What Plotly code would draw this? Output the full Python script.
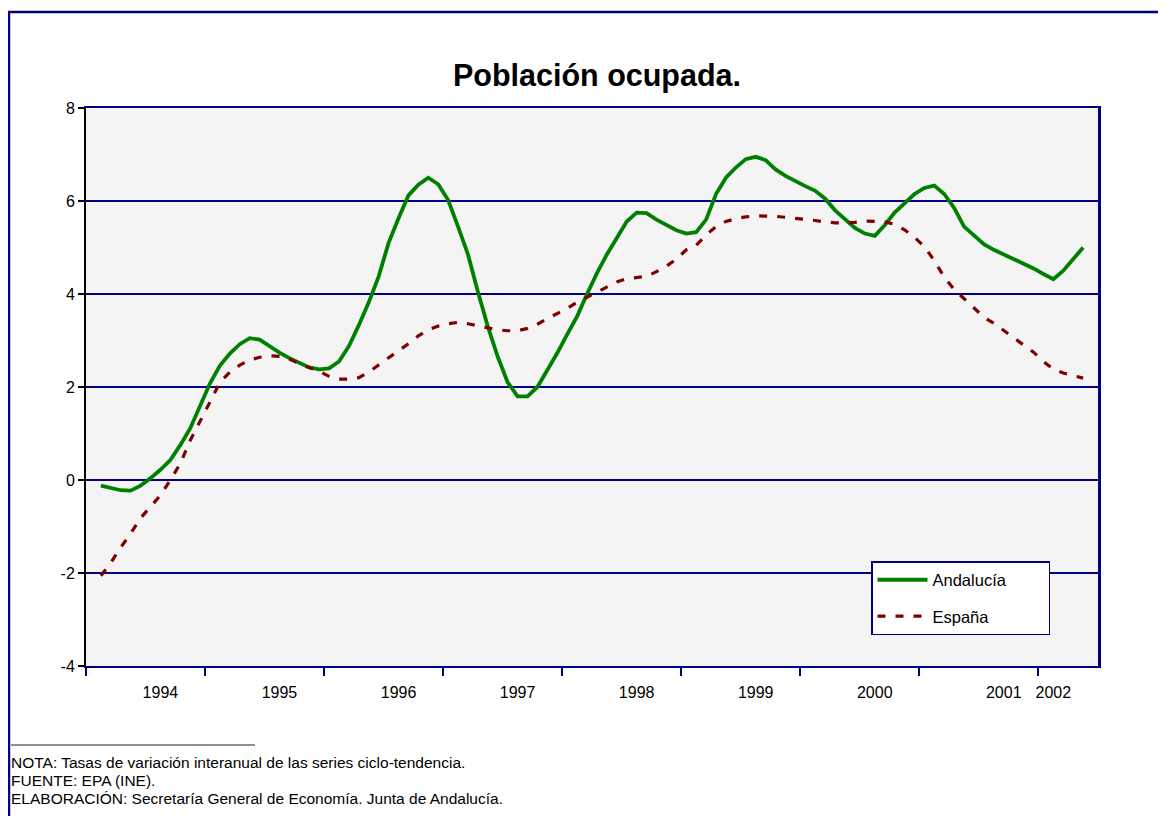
import plotly.graph_objects as go

# Monthly index positions (category centres) and series values (% interannual change)
months = list(range(1, 101))

andalucia = [
    -0.12, -0.17, -0.22, -0.23, -0.12, 0.04, 0.22, 0.43, 0.75, 1.11,
    1.58, 2.08, 2.46, 2.72, 2.92, 3.05, 3.02, 2.87, 2.74, 2.62,
    2.52, 2.42, 2.38, 2.40, 2.55, 2.88, 3.33, 3.82, 4.38, 5.10,
    5.63, 6.12, 6.35, 6.50, 6.36, 6.02, 5.45, 4.85, 4.05, 3.30,
    2.65, 2.10, 1.80, 1.80, 2.00, 2.35, 2.73, 3.13, 3.52, 4.00,
    4.45, 4.85, 5.20, 5.56, 5.75, 5.74, 5.60, 5.48, 5.37, 5.30,
    5.33, 5.60, 6.15, 6.50, 6.72, 6.90, 6.95, 6.88, 6.68, 6.54,
    6.42, 6.32, 6.22, 6.05, 5.80, 5.60, 5.42, 5.30, 5.25, 5.48,
    5.75, 5.95, 6.15, 6.28, 6.33, 6.15, 5.85, 5.45, 5.27, 5.07,
    4.95, 4.85, 4.76, 4.65, 4.55, 4.43, 4.32, 4.50, 4.75, 5.00,
]

espana = [
    -2.06, -1.78, -1.45, -1.15, -0.82, -0.57, -0.33, 0.00, 0.35, 0.85,
    1.25, 1.68, 2.10, 2.32, 2.47, 2.58, 2.64, 2.67, 2.66, 2.60,
    2.50, 2.42, 2.34, 2.23, 2.17, 2.17, 2.20, 2.32, 2.48, 2.63,
    2.78, 2.93, 3.10, 3.23, 3.31, 3.36, 3.39, 3.36, 3.32, 3.27,
    3.23, 3.21, 3.21, 3.26, 3.35, 3.47, 3.58, 3.69, 3.82, 3.93,
    4.05, 4.16, 4.26, 4.33, 4.35, 4.38, 4.48, 4.60, 4.75, 4.95,
    5.05, 5.27, 5.45, 5.56, 5.62, 5.66, 5.68, 5.68, 5.67, 5.65,
    5.63, 5.61, 5.58, 5.55, 5.53, 5.53, 5.54, 5.57, 5.56, 5.55,
    5.50, 5.38, 5.22, 5.02, 4.72, 4.36, 4.10, 3.90, 3.72, 3.50,
    3.37, 3.22, 3.07, 2.92, 2.75, 2.55, 2.38, 2.30, 2.24, 2.19,
]

year_labels = ["1994", "1995", "1996", "1997", "1998", "1999", "2000", "2001", "2002"]
year_label_months = [7, 19, 31, 43, 55, 67, 79, 92, 97]
year_tick_months = [0, 12, 24, 36, 48, 60, 72, 84, 96]

y_tick_vals = [-4, -2, 0, 2, 4, 6, 8]
y_tick_text = ["-4", "-2", "0", "2", "4", "6", "8"]

NAVY = "#000080"
OFF = 8  # page body margin of the browser
W, H = 1166 - OFF, 816 - OFF
PL, PR, PT, PB = 86 - OFF, 1098 - OFF, 108 - OFF, 666 - OFF  # plot area in figure px
PW, PH = PR - PL, PB - PT


def px(xr):
    return (xr - OFF - PL) / PW


def py(yr):
    return (PB - (yr - OFF)) / PH


x_pos = [m + 0.5 for m in months]
label_pos = [m + 0.5 for m in year_label_months]

fig = go.Figure()
fig.add_trace(go.Scatter(
    x=x_pos, y=andalucia, mode="lines", name="Andalucía" + "\u00a0" * 8,
    line=dict(color="#008000", width=3.8), legendgroup="a",
))
fig.add_trace(go.Scatter(
    x=x_pos, y=espana, mode="lines", name="España",
    line=dict(color="#800000", width=3.2, dash="8px,10px"), legendgroup="b",
))
# helper on the right axis so the navy right frame is drawn
fig.add_trace(go.Scatter(
    x=[x_pos[0]], y=[andalucia[0]], yaxis="y2", mode="lines",
    showlegend=False, hoverinfo="skip", line=dict(width=0),
))

fig.update_layout(
    width=W, height=H,
    paper_bgcolor="white",
    plot_bgcolor="#f4f4f4",
    margin=dict(l=PL, r=W - PR, t=PT, b=H - PB),
    font=dict(family="Arial, Liberation Sans, sans-serif", size=16, color="black"),
    title=dict(
        text="<b>Población ocupada.</b>",
        x=(597 - OFF) / W, xanchor="center",
        y=1 - (75 - OFF) / H, yanchor="middle",
        font=dict(size=30.5, color="black"),
    ),
    xaxis=dict(
        range=[0, 102],
        tickmode="array", tickvals=label_pos, ticktext=year_labels,
        ticks="", ticklabelstandoff=11,
        showgrid=False, zeroline=False,
        showline=True, linecolor=NAVY, linewidth=2, mirror=True,
        tickfont=dict(size=16),
        minor=dict(tickmode="array", tickvals=year_tick_months, ticks="outside",
                   ticklen=8, tickcolor=NAVY, tickwidth=2, showgrid=False),
    ),
    yaxis=dict(
        range=[-4, 8], tickmode="array", tickvals=y_tick_vals, ticktext=y_tick_text,
        showgrid=True, gridcolor=NAVY, gridwidth=1.6,
        zeroline=False,
        showline=True, linecolor="black", linewidth=2,
        ticks="outside", ticklen=6, tickcolor="black", tickwidth=1.5,
        tickfont=dict(size=16),
    ),
    yaxis2=dict(
        range=[-4, 8], overlaying="y", side="right",
        showgrid=False, zeroline=False, showticklabels=False, ticks="",
        showline=True, linecolor=NAVY, linewidth=2.5,
    ),
    legend=dict(
        x=px(871), xanchor="left",
        y=py(561), yanchor="top",
        bgcolor="white", bordercolor=NAVY, borderwidth=1.5,
        font=dict(size=16.5, color="black"),
        traceorder="grouped", tracegroupgap=12,
        itemwidth=50,
    ),
    showlegend=True,
)

# outer chart frame
fig.add_shape(type="rect", xref="paper", yref="paper",
              x0=px(9), x1=px(1180), y0=py(830), y1=py(12),
              line=dict(color=NAVY, width=2.5), fillcolor="rgba(0,0,0,0)", layer="below")

# footnote separator
fig.add_shape(type="line", xref="paper", yref="paper",
              x0=px(11), x1=px(255), y0=py(745), y1=py(745),
              line=dict(color="#222222", width=1))

notes = [
    "NOTA: Tasas de variación interanual de las series ciclo-tendencia.",
    "FUENTE: EPA (INE).",
    "ELABORACIÓN: Secretaría General de Economía. Junta de Andalucía.",
]
note_y = [762, 780, 798]
for t, yy in zip(notes, note_y):
    fig.add_annotation(
        text=t, xref="paper", yref="paper",
        x=px(9), xanchor="left",
        y=py(yy), yanchor="middle",
        showarrow=False, font=dict(size=15.5, color="black"),
    )

fig.write_html("out.html")
